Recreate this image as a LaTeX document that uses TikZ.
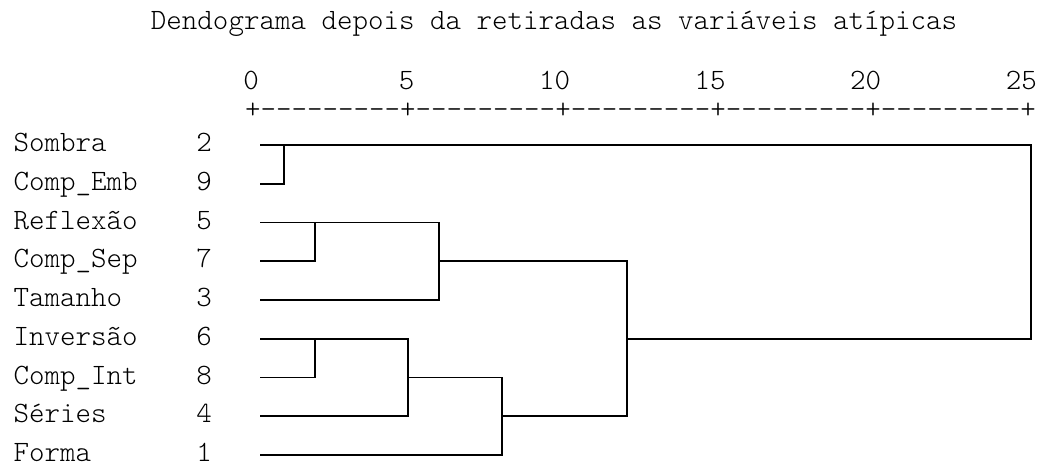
\documentclass[tikz,border=0pt]{standalone}
\usepackage{fontspec}
\setmonofont{Latin Modern Mono Light}

\begin{document}
\begin{tikzpicture}[x=0.025cm, y=-0.025cm, line width=1.4pt,
  every node/.style={font=\ttfamily\fontsize{21}{25}\selectfont, inner sep=0pt}]
        \def \top {145}
        \def \gap {38.75}
        \def \leafx {260}
        \def \tick {155.6} % width of 5 units on the scale

        \useasboundingbox (0,0) rectangle (1040,465);

        \node[anchor=base west] (title) at (150,30) {Dendograma depois da retiradas as vari\'aveis at\'ipicas};

        % scale
        \foreach \v [count=\ni from 0] in {0,5,10,15,20,25}{
          \node[anchor=base east] (s\ni) at ({252+\ni*\tick+7.8},90) {\v};
        }
        \node[anchor=base west] (ruler) at (244.2,119) {+---------+---------+---------+---------+---------+};

        % leaves
        \foreach \name/\num [count=\ni from 0] in {Sombra/2,Comp\_Emb/9,Reflexão/5,Comp\_Sep/7,Tamanho/3,Inversão/6,Comp\_Int/8,Séries/4,Forma/1}{
          \node[anchor=base west] (lab\num) at (12.7,{\top+\ni*\gap+6.7}) {\name};
          \node[anchor=base] (num\num) at (204,{\top+\ni*\gap+6.7}) {\num};
          \coordinate (leaf\num) at (\leafx,{\top+\ni*\gap});
        }

        % joins
        \coordinate (j29) at (284,145);
        \coordinate (j57) at (315,222.5);
        \coordinate (j573) at (439.3,261.25);
        \coordinate (j68) at (315,338.75);
        \coordinate (j684) at (408.3,377.5);
        \coordinate (j6841) at (501.7,416.25);
        \coordinate (jlow) at (626.7,338.75);
        \coordinate (jroot) at (1031,145);

        \draw (leaf9) -| (j29);
        \draw (leaf7) -| (j57);
        \draw (leaf5) -| (439.3,300) -- (leaf3);
        \draw (leaf8) -| (j68);
        \draw (leaf4) -| (408.3,338.75) -- (leaf6);
        \draw (j684) -| (501.7,455) -- (leaf1);
        \draw (j573) -| (626.7,416.25) -- (j6841);
        \draw (jlow) -| (jroot) -- (leaf2);
\end{tikzpicture}
\end{document}
